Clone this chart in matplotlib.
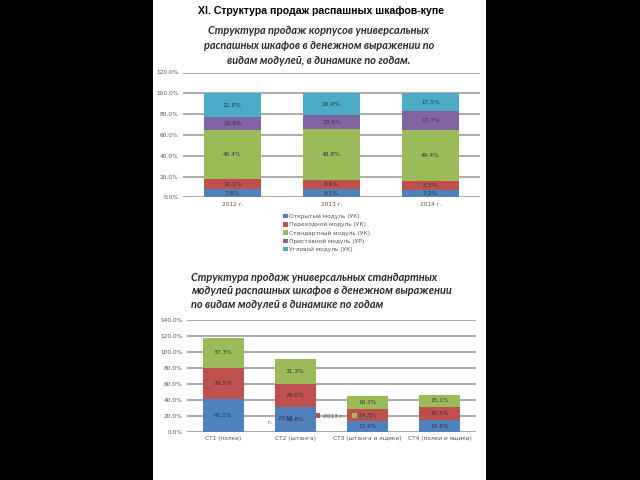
import matplotlib
matplotlib.use("Agg")
import matplotlib.pyplot as plt
from matplotlib.patches import Rectangle
import numpy as np

# ---------- data ----------
years = ["2012 г.", "2013 г.", "2014 г."]
modules = ["Открытый модуль (УК)", "Переходной модуль (УК)", "Стандартный модуль (УК)",
           "Приставной модуль (УР)", "Угловой модуль (УК)"]
open_mod = [7.8, 8.1, 7.2]
trans_mod = [10.2, 8.8, 8.3]
std_mod = [46.4, 48.8, 49.4]
attach_mod = [12.8, 13.5, 17.7]
corner_mod = [22.8, 20.9, 17.5]

st_types = ["СТ1 (полки)", "СТ2 (штанга)", "СТ3 (штанга и ящики)", "СТ4 (полки и ящики)"]
y2012 = [41.1, 30.9, 13.6, 14.8]
y2013 = [39.5, 29.0, 14.8, 16.5]
y2014 = [37.3, 31.3, 16.3, 15.1]

ticks1 = [0, 20, 40, 60, 80, 100, 120]
ticks2 = [0, 20, 40, 60, 80, 100, 120, 140]

c_blue, c_red, c_green, c_purple, c_aqua = "#4F81BD", "#C0504D", "#9BBB59", "#8064A2", "#4BACC6"

W, H = 640, 480
fig = plt.figure(figsize=(6.4, 4.8), dpi=100, facecolor="black")

def fx(px):
    return px / W

def fy(py):
    return 1 - py / H

# white panel
fig.patches.append(Rectangle((fx(153), 0), fx(486) - fx(153), 1, transform=fig.transFigure,
                             facecolor="white", edgecolor="none", zorder=-10))

fig.text(fx(321), fy(11), "XI. Структура продаж распашных шкафов-купе", ha="center", va="center",
         fontsize=7.6, fontweight="bold", family="Liberation Sans", color="black")

fig.text(fx(319), fy(45.5), "Структура продаж корпусов универсальных\nраспашных шкафов в денежном выражении по\nвидам модулей, в динамике по годам.",
         ha="center", va="center", fontsize=7.8, style="italic", fontweight="bold", family="Lato",
         color="#2a2a2a", linespacing=1.4)

fig.text(fx(191), fy(291), "Структура продаж универсальных стандартных\nмодулей распашных шкафов в денежном выражении\nпо видам модулей в динамике по годам",
         ha="left", va="center", fontsize=7.8, style="italic", fontweight="bold", family="Lato",
         color="#2a2a2a", linespacing=1.3)

tick_color = "#555555"
lab_color = "#333344"

def style_ax(ax, yticks):
    ax.set_facecolor("none")
    for s in ax.spines.values():
        s.set_visible(False)
    ax.set_yticks(yticks)
    ax.set_yticklabels([f"{v:.1f}%" for v in yticks], fontsize=4.2, color=tick_color)
    ax.tick_params(axis="both", length=0, pad=3)
    ax.yaxis.grid(True, color="#A6A6A6", linewidth=1.3)
    ax.set_axisbelow(True)

# ---------- chart 1 ----------
ax1 = fig.add_axes([fx(183), fy(197.5), fx(480) - fx(183), fy(72.5) - fy(197.5)])
style_ax(ax1, ticks1)
ax1.set_ylim(0, 120)
x1 = np.arange(len(years))
ax1.set_xlim(-0.5, len(years) - 0.5)
series1 = [open_mod, trans_mod, std_mod, attach_mod, corner_mod]
colors1 = [c_blue, c_red, c_green, c_purple, c_aqua]
bottom = np.zeros(len(years))
handles = []
for vals, col, name in zip(series1, colors1, modules):
    b = ax1.bar(x1, vals, 0.57, bottom=bottom, color=col, label=name, zorder=2)
    handles.append(b)
    for xi, v, bt in zip(x1, vals, bottom):
        ax1.text(xi, bt + v / 2, f"{v:.1f}%", ha="center", va="center", fontsize=4.2,
                 color=lab_color, zorder=3)
    bottom += np.array(vals)
ax1.set_xticks(x1)
ax1.set_xticklabels(years, fontsize=4.2, color=tick_color)
fig.legend(handles=handles, labels=modules, loc="upper left",
           bbox_to_anchor=(fx(283), fy(214)), fontsize=4.2, frameon=False,
           handlelength=0.8, handleheight=0.8, handletextpad=0.3, labelspacing=0.5,
           labelcolor=tick_color, borderaxespad=0, borderpad=0)

# ---------- chart 2 ----------
ax2 = fig.add_axes([fx(187), fy(432), fx(476) - fx(187), fy(320) - fy(432)])
style_ax(ax2, ticks2)
ax2.set_ylim(0, 140)
x2 = np.arange(len(st_types))
ax2.set_xlim(-0.5, len(st_types) - 0.5)
series2 = [y2012, y2013, y2014]
colors2 = [c_blue, c_red, c_green]
bottom = np.zeros(len(st_types))
for vals, col in zip(series2, colors2):
    ax2.bar(x2, vals, 0.57, bottom=bottom, color=col, zorder=2)
    for xi, v, bt in zip(x2, vals, bottom):
        ax2.text(xi, bt + v / 2, f"{v:.1f}%", ha="center", va="center", fontsize=4.2,
                 color=lab_color, zorder=3)
    bottom += np.array(vals)
ax2.set_xticks(x2)
ax2.set_xticklabels(st_types, fontsize=4.2, color=tick_color)

# misplaced legend of chart 2 (as in the original picture)
fig.text(fx(273), fy(423), "г.", fontsize=4.2, color=tick_color, ha="right", va="center", zorder=6)
fig.text(fx(289), fy(418), years[0], fontsize=4.2, color=lab_color, ha="center", va="center", zorder=6)
fig.patches.append(Rectangle((fx(315.5), fy(417.5)), fx(5), fx(5) * W / H, transform=fig.transFigure,
                             facecolor=c_red, edgecolor="none", zorder=5))
fig.text(fx(323), fy(416), years[1], fontsize=4.2, color=tick_color, ha="left", va="center", zorder=6)
fig.patches.append(Rectangle((fx(351.5), fy(418)), fx(5), fx(5) * W / H, transform=fig.transFigure,
                             facecolor=c_green, edgecolor="none", zorder=5))
fig.text(fx(358), fy(419), years[2], fontsize=4.2, color=tick_color, ha="left", va="center", zorder=6)

fig.savefig("out.png", dpi=100, facecolor="black")
